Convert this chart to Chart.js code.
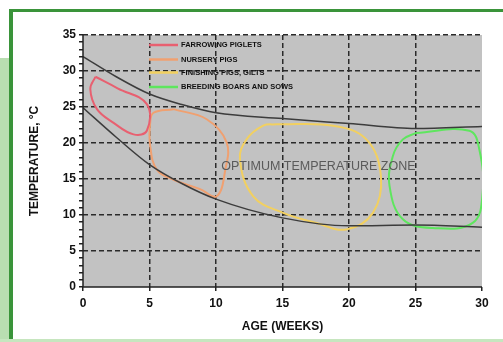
<!DOCTYPE html>
<html>
<head>
<meta charset="utf-8">
<script src="https://cdn.jsdelivr.net/npm/chart.js@4/dist/chart.umd.min.js"></script>
<style>
  html, body { margin: 0; padding: 0; background: #fff; }
  #wrap { position: relative; width: 503px; height: 342px; overflow: hidden; background: #fff; }
  #sideL { position: absolute; left: 0; top: 58px; width: 9px; height: 284px; background: #b9deb1; }
  #sideB { position: absolute; left: 0; top: 339px; width: 503px; height: 3px; background: #c6e6bf; }
  #frameT { position: absolute; left: 9px; top: 9px; width: 494px; height: 3px; background: #3a943a; }
  #frameL { position: absolute; left: 9px; top: 9px; width: 4px; height: 330px; background: #3a943a; }
  canvas { position: absolute; left: 0; top: 0; }
</style>
</head>
<body>
<div id="wrap">
  <div id="sideL"></div>
  <div id="sideB"></div>
  <div id="frameT"></div>
  <div id="frameL"></div>
  <canvas id="myChart" width="503" height="342"></canvas>
</div>
<script>
// limites de temperatura (curvas negras)
var upperX = [0, 2.5, 5, 7.5, 10, 15, 20, 25, 30];
var upperY = [32.0, 29.2, 26.8, 25.3, 24.2, 23.4, 22.7, 22.0, 22.3];
var lowerX = [0, 2.5, 5, 7.5, 10, 15, 20, 25, 30];
var lowerY = [24.9, 20.8, 17.0, 14.3, 12.2, 9.6, 8.5, 8.6, 8.3];

// zonas (contornos cerrados)
var zoneLabels = ['FARROWING PIGLETS', 'NURSERY PIGS', 'FINISHING PIGS, GILTS', 'BREEDING BOARS AND SOWS'];
var zoneColors = ['#e86070', '#f0a070', '#f2d060', '#5ee65e'];
var redX = [0.93, 2.6, 4.8, 4.8, 3.8, 2.3, 1.05, 0.55, 0.93];
var redY = [29.2, 27.6, 25.4, 21.7, 21.2, 22.8, 24.7, 27.5, 29.2];
var orangeX = [6.8, 9.3, 10.8, 10.7, 10.05, 8.8, 6.8, 5.55, 5.05, 5.05, 5.3, 6.8];
var orangeY = [24.7, 23.3, 20.1, 16.3, 12.6, 13.6, 14.9, 16.3, 19.6, 22.8, 24.2, 24.7];
var yellowX = [14.55, 18.8, 21.3, 22.4, 21.8, 19.8, 17.55, 15.05, 12.8, 11.8, 12.3, 13.55, 14.55];
var yellowY = [22.6, 22.4, 20.5, 15.4, 10.3, 8.0, 8.9, 10.3, 12.6, 17.7, 20.5, 22.4, 22.6];
var greenX = [25.05, 29.05, 29.8, 30.05, 29.3, 26.3, 24.05, 23.05, 23.3, 24.05, 25.05];
var greenY = [21.4, 21.7, 19.1, 13.1, 8.9, 8.2, 9.4, 14.0, 18.2, 20.5, 21.4];

var xTicks = [0, 5, 10, 15, 20, 25, 30];

function pts(xs, ys) {
    var out = [];
    for (var i = 0; i < xs.length; i++) out.push({x: xs[i], y: ys[i]});
    return out;
}

var zoneData = [pts(redX, redY), pts(orangeX, orangeY), pts(yellowX, yellowY), pts(greenX, greenY)];

var datasets = [];
datasets.push({ label: 'upper', data: pts(upperX, upperY), borderColor: '#3c3c3c', borderWidth: 1.5, pointRadius: 0, cubicInterpolationMode: 'monotone', fill: false });
datasets.push({ label: 'lower', data: pts(lowerX, lowerY), borderColor: '#3c3c3c', borderWidth: 1.5, pointRadius: 0, cubicInterpolationMode: 'monotone', fill: false });
for (var i = 0; i < zoneData.length; i++) {
    datasets.push({ label: zoneLabels[i], data: zoneData[i], borderColor: zoneColors[i], borderWidth: 2, pointRadius: 0, tension: 0.4, fill: false, isZone: true });
}

// fondo gris del area + ejes solidos
var bgPlugin = {
    id: 'bg',
    beforeDraw: function(chart) {
        var a = chart.chartArea, c = chart.ctx;
        c.save();
        c.fillStyle = '#c2c2c2';
        c.fillRect(a.left, a.top, a.right - a.left, a.bottom - a.top);
        c.restore();
    },
    afterDatasetsDraw: function(chart) {
        var a = chart.chartArea, c = chart.ctx;
        c.save();
        c.strokeStyle = '#222';
        c.lineWidth = 1.5;
        c.beginPath();
        c.moveTo(a.left, a.top);
        c.lineTo(a.left, a.bottom);
        c.lineTo(a.right, a.bottom);
        c.stroke();
        c.restore();
    }
};

// leyenda y texto de zona
var legendPlugin = {
    id: 'zoneLegend',
    afterDraw: function(chart) {
        var c = chart.ctx;
        var rows = [45, 59.5, 72.5, 87];
        c.save();
        var n = 0;
        chart.data.datasets.forEach(function(ds) {
            if (!ds.isZone) return;
            var y = rows[n++];
            c.strokeStyle = ds.borderColor;
            c.lineWidth = 2.5;
            c.beginPath();
            c.moveTo(149, y);
            c.lineTo(178, y);
            c.stroke();
            c.fillStyle = '#111';
            c.font = 'bold 7.5px "Liberation Sans", Arial, sans-serif';
            c.textBaseline = 'middle';
            c.fillText(ds.label, 181, y);
        });
        var xs = chart.scales.x, ys = chart.scales.y;
        c.fillStyle = '#5a5a5a';
        c.font = '12.5px "Liberation Sans", Arial, sans-serif';
        c.textAlign = 'center';
        c.textBaseline = 'middle';
        c.fillText('OPTIMUM TEMPERATURE ZONE', xs.getPixelForValue(17.7), ys.getPixelForValue(16.7));
        c.restore();
    }
};

var ctx = document.getElementById('myChart').getContext('2d');
var myChart = new Chart(ctx, {
    type: 'line',
    data: { datasets: datasets },
    plugins: [bgPlugin, legendPlugin],
    options: {
        responsive: false,
        animation: false,
        layout: { padding: { left: 27, right: 21, top: 35, bottom: 8 } },
        plugins: { legend: { display: false }, tooltip: { enabled: false } },
        scales: {
            x: {
                type: 'linear', min: 0, max: 30,
                afterBuildTicks: function(s) { s.ticks = xTicks.map(function(v) { return {value: v}; }); },
                afterFit: function(s) { s.height = 47; },
                ticks: { color: '#111', font: { family: 'Liberation Sans', weight: 'bold', size: 12 }, padding: 5, maxRotation: 0 },
                grid: {
                    color: function(c) { return (c.tick && c.tick.value > 0 && c.tick.value < 30) ? '#2a2a2a' : 'rgba(0,0,0,0)'; },
                    tickColor: '#222', tickLength: 4, lineWidth: 1.5
                },
                border: { display: false, dash: [5, 3] },
                title: { display: true, text: 'AGE (WEEKS)', color: '#111', font: { family: 'Liberation Sans', weight: 'bold', size: 12 }, padding: { top: 4, bottom: 0 } }
            },
            y: {
                type: 'linear', min: 0, max: 35,
                ticks: {
                    stepSize: 1, autoSkip: false,
                    color: '#111', font: { family: 'Liberation Sans', weight: 'bold', size: 12 }, padding: 3,
                    callback: function(v) { return (v % 5 === 0) ? String(v) : ''; }
                },
                afterFit: function(s) { s.width = 56; },
                grid: {
                    color: function(c) { return (c.tick && c.tick.value % 5 === 0 && c.tick.value > 0) ? '#2a2a2a' : 'rgba(0,0,0,0)'; },
                    tickColor: '#222', tickLength: 4, lineWidth: 1.5
                },
                border: { display: false, dash: [5, 3] },
                title: { display: true, text: 'TEMPERATURE, °C', color: '#111', font: { family: 'Liberation Sans', weight: 'bold', size: 12 }, padding: { top: 0, bottom: 3 } }
            }
        }
    }
});
</script>
</body>
</html>
